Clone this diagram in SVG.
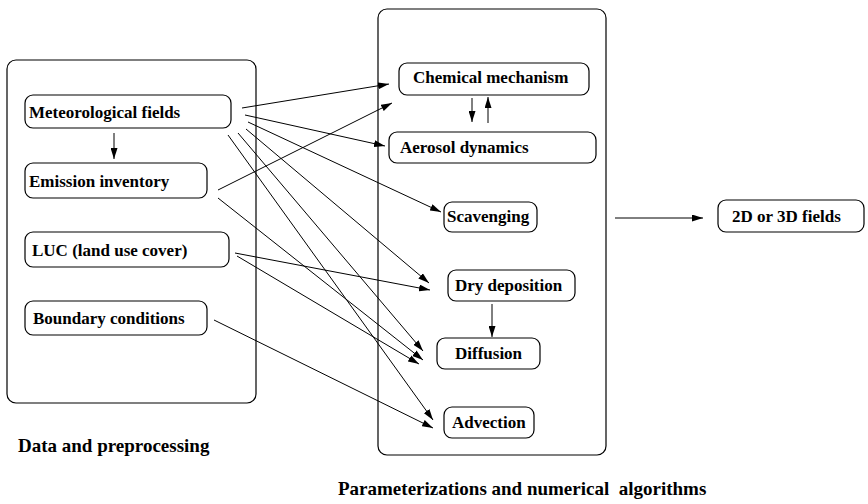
<svg xmlns="http://www.w3.org/2000/svg" width="868" height="504" viewBox="0 0 868 504">
  <defs>
    <marker id="arrow" markerWidth="11" markerHeight="7" refX="11" refY="3.5" orient="auto" markerUnits="userSpaceOnUse">
      <path d="M0,0 L11,3.5 L0,7 Z" fill="#000"/>
    </marker>
  </defs>
  <style>
    .panel { fill: none; stroke: #000; stroke-width: 1.2; }
    .box { fill: #fff; stroke: #000; stroke-width: 1.2; }
    .lbl { font-family: "Liberation Serif", "Times New Roman", serif; font-weight: bold; font-size: 17px; fill: #000; }
    .title { font-family: "Liberation Serif", "Times New Roman", serif; font-weight: bold; font-size: 19px; fill: #000; }
    .conn line { stroke: #000; stroke-width: 1; marker-end: url(#arrow); }
  </style>

  <rect width="868" height="504" fill="#fff"/>

  <!-- panels -->
  <g id="panel-data">
    <rect class="panel" x="7" y="60" width="249" height="343" rx="9"/>
    <text class="title" x="18" y="452">Data and preprocessing</text>
  </g>
  <g id="panel-algorithms">
    <rect class="panel" x="378" y="9" width="228" height="446" rx="9"/>
    <text class="title" x="338" y="495" xml:space="preserve">Parameterizations and numerical  algorithms</text>
  </g>

  <!-- input nodes -->
  <g id="met">
    <rect class="box" x="25" y="95" width="206" height="33" rx="8"/>
    <text class="lbl" x="29" y="118">Meteorological fields</text>
  </g>
  <g id="emission">
    <rect class="box" x="25" y="163" width="182" height="35" rx="8"/>
    <text class="lbl" x="29" y="187">Emission inventory</text>
  </g>
  <g id="luc">
    <rect class="box" x="25" y="232" width="204" height="35" rx="8"/>
    <text class="lbl" x="32" y="256">LUC (land use cover)</text>
  </g>
  <g id="boundary">
    <rect class="box" x="25" y="301" width="182" height="34" rx="8"/>
    <text class="lbl" x="33" y="324">Boundary conditions</text>
  </g>

  <!-- process nodes -->
  <g id="chem">
    <rect class="box" x="399" y="63" width="190" height="32" rx="8"/>
    <text class="lbl" x="413" y="83">Chemical mechanism</text>
  </g>
  <g id="aerosol">
    <rect class="box" x="389" y="132" width="207" height="31" rx="8"/>
    <text class="lbl" x="400" y="153">Aerosol dynamics</text>
  </g>
  <g id="scav">
    <rect class="box" x="444" y="202" width="93" height="30" rx="8"/>
    <text class="lbl" x="447" y="222">Scavenging</text>
  </g>
  <g id="drydep">
    <rect class="box" x="448" y="270" width="127" height="31" rx="8"/>
    <text class="lbl" x="455" y="291">Dry deposition</text>
  </g>
  <g id="diffusion">
    <rect class="box" x="437" y="338" width="103" height="31" rx="8"/>
    <text class="lbl" x="455" y="359">Diffusion</text>
  </g>
  <g id="advection">
    <rect class="box" x="444" y="407" width="90" height="31" rx="8"/>
    <text class="lbl" x="452" y="428">Advection</text>
  </g>

  <!-- output node -->
  <g id="fields">
    <rect class="box" x="718" y="200" width="146" height="32" rx="8"/>
    <text class="lbl" x="732" y="222">2D or 3D fields</text>
  </g>

  <!-- connectors -->
  <g id="connectors" class="conn">
    <line x1="114" y1="133" x2="114" y2="159"/>
    <line x1="472" y1="98" x2="472" y2="122"/>
    <line x1="488" y1="123" x2="488" y2="97"/>
    <line x1="492" y1="304" x2="492" y2="337"/>
    <line x1="615" y1="218" x2="703" y2="218"/>

    <line x1="242" y1="108" x2="389" y2="84"/>
    <line x1="245" y1="115" x2="385" y2="146"/>
    <line x1="248" y1="122" x2="441" y2="212"/>
    <line x1="246" y1="129" x2="429" y2="283"/>
    <line x1="238" y1="133" x2="423" y2="351"/>
    <line x1="228" y1="135" x2="433" y2="420"/>

    <line x1="218" y1="190" x2="392" y2="103"/>
    <line x1="218" y1="198" x2="423" y2="360"/>

    <line x1="235" y1="253" x2="430" y2="290"/>
    <line x1="237" y1="256" x2="419" y2="364"/>

    <line x1="214" y1="320" x2="433" y2="428"/>
  </g>
</svg>
